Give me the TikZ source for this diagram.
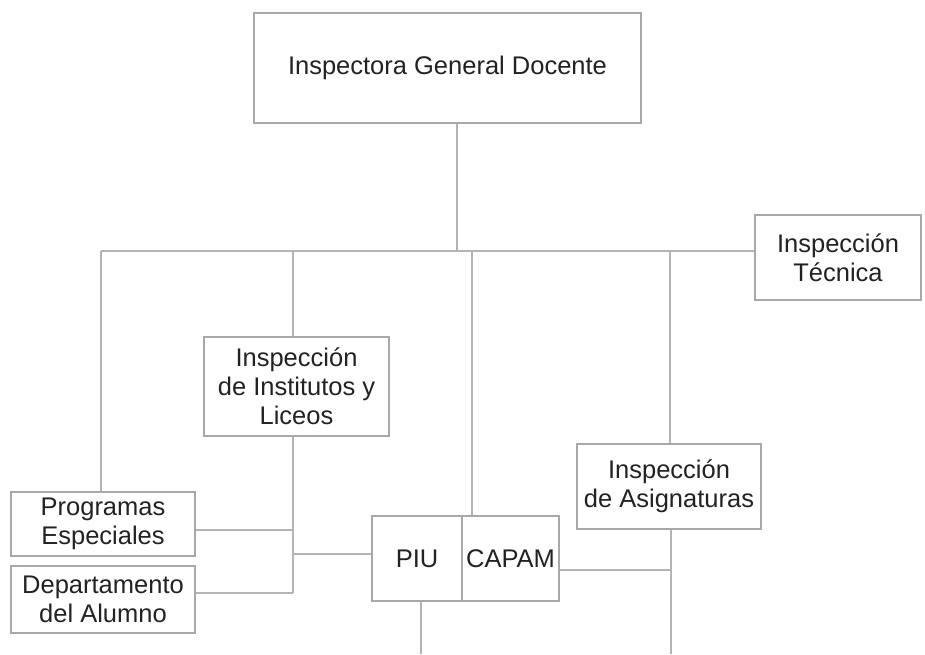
\documentclass[tikz,border=0pt]{standalone}
\usepackage{fontspec}
\setmainfont{Liberation Sans}
\begin{document}
\begin{tikzpicture}[x=1pt,y=-1pt,
  box/.style={draw=boxgray,line width=1.4pt,fill=white,inner sep=0pt,align=center,
    text=txtgray,font=\fontsize{25.5}{28.8}\selectfont},
  conn/.style={draw=linegray,line width=1.6pt}]
\definecolor{boxgray}{HTML}{A8A8A8}
\definecolor{linegray}{HTML}{B4B4B4}
\definecolor{txtgray}{HTML}{222222}
\useasboundingbox (0,0) rectangle (925,654);
\fill[white] (0,0) rectangle (925,654);
% nodes
\node[box,minimum width=387pt,minimum height=110pt] (top) at (447.5,68) {Inspectora General Docente};
\node[box,minimum width=166pt,minimum height=85pt] (tec) at (838,257.5) {Inspección\\Técnica};
\node[box,minimum width=185pt,minimum height=99pt] (inst) at (296.5,386.5) {Inspección\\de Institutos y\\Liceos};
\node[box,minimum width=184pt,minimum height=64pt] (prog) at (103,524) {Programas\\Especiales};
\node[box,minimum width=184pt,minimum height=67pt] (dept) at (103,599.5) {Departamento\\del Alumno};
\node[box,minimum width=90pt,minimum height=85pt] (piu) at (417,558.5) {PIU};
\node[box,minimum width=97pt,minimum height=85pt] (capam) at (510.5,558.5) {CAPAM};
\node[box,minimum width=184pt,minimum height=85pt] (asig) at (669,486.5) {Inspección\\de Asignaturas};
% junction coordinates
\coordinate (j0) at (457,251);
\coordinate (jL) at (101,251);
\coordinate (jI) at (293,251);
\coordinate (jC) at (472,251);
\coordinate (jA) at (670,251);
\coordinate (vI1) at (293,530);
\coordinate (vI2) at (293,593);
\coordinate (vI3) at (293,554);
\coordinate (piuB) at (421,654);
\coordinate (capR) at (671,570);
\coordinate (asigB) at (671,654);
% connectors
\draw[conn] (j0 |- top.south) -- (j0);
\draw[conn] (jL) -- (jL -| tec.west);
\draw[conn] (jL) -- (jL |- prog.north);
\draw[conn] (jI) -- (jI |- inst.north);
\draw[conn] (jC) -- (jC |- capam.north);
\draw[conn] (jA) -- (jA |- asig.north);
\draw[conn] (vI1 |- inst.south) -- (vI2);
\draw[conn] (vI1 -| prog.east) -- (vI1);
\draw[conn] (vI2 -| dept.east) -- (vI2);
\draw[conn] (vI3) -- (vI3 -| piu.west);
\draw[conn] (piuB |- piu.south) -- (piuB);
\draw[conn] (capR -| capam.east) -- (capR);
\draw[conn] (asigB |- asig.south) -- (asigB);
\end{tikzpicture}
\end{document}
